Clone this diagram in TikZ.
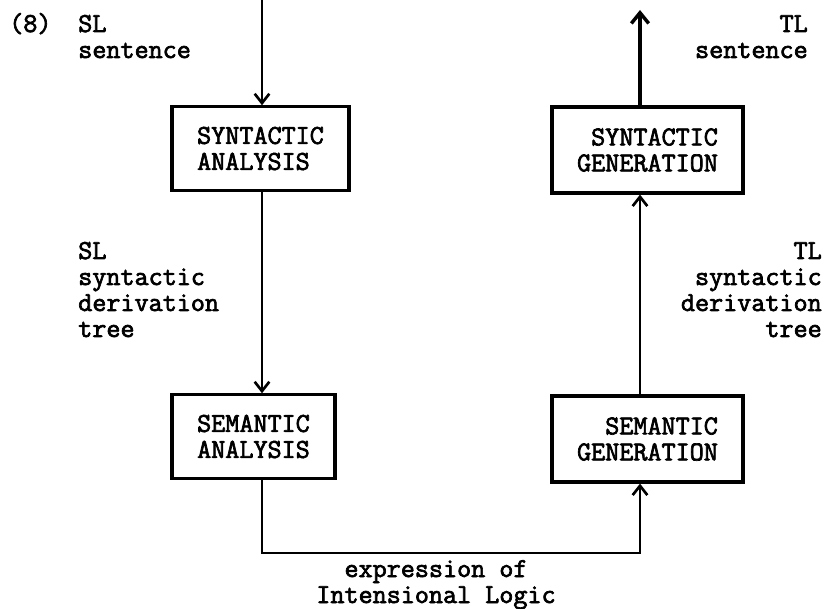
\documentclass[tikz,border=0pt]{standalone}
\usepackage{fontspec}
\newfontfamily\tw{Latin Modern Mono}[RawFeature={embolden=2.5}]
\usetikzlibrary{arrows.meta}

\begin{document}
\begin{tikzpicture}[x=0.75pt,y=-0.75pt,
  every node/.style={font=\tw\fontsize{20.5}{19.5}\selectfont, inner sep=0pt},
  stage/.style={draw, line width=2.4pt, minimum height=62.5pt},
  flow/.style={line width=2.2pt, -{Straight Barb[length=7pt,width=11pt,line width=2pt]}},
  outflow/.style={line width=3.6pt, -{Straight Barb[length=8pt,width=13pt,line width=2.6pt]}}]

  % page
  \fill[white] (0,0) rectangle (824,609);
  \useasboundingbox (0,0) rectangle (824,609);

  % processing stages
  \node[stage, align=left,  minimum width=132.75pt] (synA) at (260.5,148.5) {SYNTACTIC\\ANALYSIS};
  \node[stage, align=center,minimum width=122.25pt] (semA) at (253.5,436.5) {SEMANTIC\\ANALYSIS};
  \node[stage, align=right, minimum width=143.25pt, minimum height=64.5pt] (synG) at (647.5,150) {SYNTACTIC\\GENERATION};
  \node[stage, align=right, minimum width=143.25pt, minimum height=64.5pt] (semG) at (647.5,439) {SEMANTIC\\GENERATION};

  % columns of the two chains and the bottom link
  \coordinate (lcol) at (262,0);
  \coordinate (rcol) at (640,0);
  \coordinate (out)  at (640,10);
  \coordinate (bl)   at (262,553);
  \coordinate (br)   at (640,553);

  % connectors
  \draw[flow] (lcol) -- (lcol |- synA.north);
  \draw[flow] (lcol |- synA.south) -- (lcol |- semA.north);
  \draw[flow] (lcol |- semA.south) -- (bl) -- (br) -- (rcol |- semG.south);
  \draw[flow] (rcol |- semG.north) -- (rcol |- synG.south);
  \draw[outflow] (rcol |- synG.north) -- (out);

  % labels
  \node[anchor=base west] (num) at (9,32) {(8)};
  \node[anchor=base west] (slA) at (78,32) {SL};
  \node[anchor=base west] (slB) at (78,58) {sentence};
  \node[anchor=base east] (tlA) at (808,32) {TL};
  \node[anchor=base east] (tlB) at (808,58) {sentence};

  \node[anchor=base west] (sdA) at (78,259) {SL};
  \node[anchor=base west] (sdB) at (78,285) {syntactic};
  \node[anchor=base west] (sdC) at (78,311) {derivation};
  \node[anchor=base west] (sdD) at (78,337) {tree};

  \node[anchor=base east] (tdA) at (822,259) {TL};
  \node[anchor=base east] (tdB) at (822,285) {syntactic};
  \node[anchor=base east] (tdC) at (822,311) {derivation};
  \node[anchor=base east] (tdD) at (822,337) {tree};

  \node[anchor=base] (ilA) at (436,577) {expression of};
  \node[anchor=base] (ilB) at (436,603) {Intensional Logic};
\end{tikzpicture}
\end{document}
